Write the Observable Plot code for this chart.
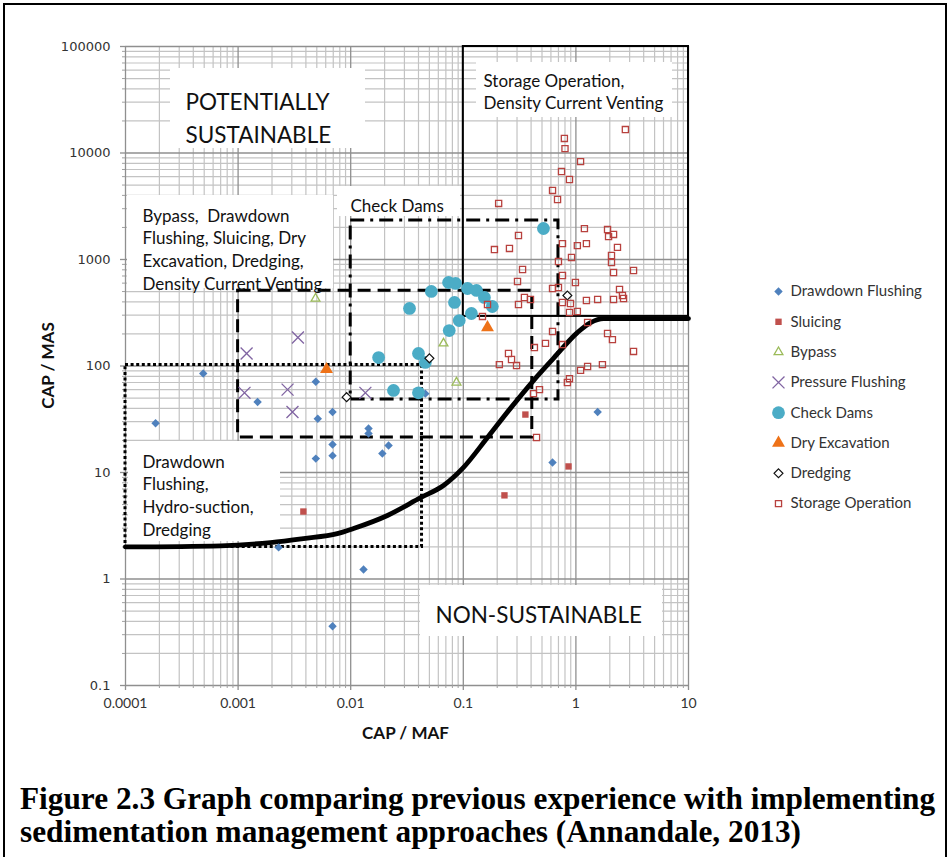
<!DOCTYPE html>
<html><head><meta charset="utf-8">
<script src="https://cdn.jsdelivr.net/npm/d3@7"></script>
<script src="https://cdn.jsdelivr.net/npm/@observablehq/plot@0.6"></script>
<style>
html,body{margin:0;padding:0;background:#fff}
body{width:952px;height:857px;overflow:hidden;position:relative}
#frame{position:absolute;left:3px;top:3px;width:940px;height:900px;border:2px solid #000}
#chart{position:absolute;left:0;top:0}
#caption{position:absolute;left:20px;top:782px;font-family:"Liberation Serif","Times New Roman",serif;font-weight:bold;font-size:31.3px;line-height:33px;white-space:nowrap;color:#000}
</style></head><body>
<div id="frame"></div>
<div id="chart"></div>
<div id="caption">Figure 2.3 Graph comparing previous experience with implementing<br>sedimentation management approaches (Annandale, 2013)</div>
<script>
// ---------- data ----------
const xTickValues = [1e-4, 1e-3, 1e-2, 1e-1, 1, 10];
const xTickLabels = ["0.0001", "0.001", "0.01", "0.1", "1", "10"];
const yTickValues = [0.1, 1, 10, 100, 1000, 10000, 100000];
const yTickLabels = ["0.1", "1", "10", "100", "1000", "10000", "100000"];

const drawdownX = [1.85e-4, 4.9e-4, 1.49e-3, 4.9e-3, 5.1e-3, 6.9e-3, 6.9e-3, 6.9e-3, 4.9e-3, 0.0144, 0.0144, 0.0191, 0.0217, 2.29e-3, 0.013, 6.9e-3, 1.56, 0.62, 0.046];
const drawdownY = [29, 85, 46, 71, 32, 37, 18.3, 14.4, 13.5, 25.9, 23.2, 15.1, 17.9, 1.98, 1.23, 0.36, 37, 12.4, 55];

const sluicingX = [3.8e-3, 0.356, 0.86, 0.232];
const sluicingY = [4.3, 35, 11.4, 6.1];

const bypassX = [4.87e-3, 0.0667, 0.087];
const bypassY = [430, 163, 70];

const pressureX = [1.19e-3, 3.4e-3, 1.14e-3, 2.75e-3, 3.04e-3, 0.0135];
const pressureY = [131, 185, 56, 60, 37, 56];

const checkX = [0.074, 0.0854, 0.052, 0.0333, 0.0835, 0.109, 0.131, 0.154, 0.181, 0.118, 0.092, 0.075, 0.040, 0.046, 0.0177, 0.024, 0.040, 0.515];
const checkY = [608, 596, 501, 347, 395, 534, 512, 440, 362, 311, 267, 215, 131, 108, 120, 59, 56, 1955];

const dryX = [6.1e-3, 0.164];
const dryY = [93, 230];

const dredgingX = [9.2e-3, 0.050, 0.84];
const dredgingY = [51, 118, 459];

const storageX = [2.75,0.79,0.80,1.10,0.745,0.877,0.62,0.687,0.206,1.19,1.91,1.95,2.16,0.309,0.189,0.257,0.76,1.03,1.24,2.34,0.914,2.07,2.07,0.70,0.336,2.16,3.25,0.76,0.303,0.99,0.62,0.70,2.44,2.59,2.65,0.349,0.309,0.395,0.76,0.895,1.24,1.56,2.16,0.164,0.877,1.03,0.148,1.27,0.62,1.91,2.11,0.537,0.428,0.76,3.25,0.252,0.268,0.209,0.297,1.10,1.27,1.72,0.877,0.84,0.475,0.42,0.447];
const storageY = [16600,13700,11000,8300,6700,5640,4450,3660,3360,1950,1910,1640,1720,1680,1240,1270,1410,1350,1410,1300,1045,1090,937,958,805,755,788,708,621,608,534,546,523,459,430,440,378,421,395,386,412,421,421,378,318,325,292,256,211,202,177,163,149,159,137,131,115,103,101,91,99,103,76,70,60,55,21.3];

// sustainability threshold curve
const curveX = [1e-4, 7e-4, 1.94e-3, 3.8e-3, 7.6e-3, 0.0106, 0.0212, 0.0417, 0.0667, 0.1, 0.164, 0.262, 0.42, 0.632, 1.03, 1.35, 1.76, 10];
const curveY = [2, 2.05, 2.2, 2.4, 2.67, 2.98, 3.95, 5.8, 7.55, 11.1, 21.3, 40, 73, 118, 206, 256, 279, 279];

// regions (boxes)
const regionNames = ["Storage Operation", "Check Dams", "Bypass", "Drawdown"];
const regionX1 = [0.1, 0.01, 0.001, 1e-4];
const regionX2 = [10, 0.7, 0.41, 0.043];
const regionY1 = [292, 48.5, 21.3, 2];
const regionY2 = [100000, 2320, 510, 102];

const legendLabels = ["Drawdown Flushing", "Sluicing", "Bypass", "Pressure Flushing", "Check Dams", "Dry Excavation", "Dredging", "Storage Operation"];

// ---------- layout ----------
const W = 952, H = 760, mL = 125, mR = 264, mT = 46, mB = 75;
const sx = d3.scaleLog([1e-4, 10], [mL, W - mR]);
const sy = d3.scaleLog([0.1, 1e5], [H - mB, mT]);
const X = px => sx.invert(px), Y = py => sy.invert(py);
const FONT = "Lato, 'Open Sans', sans-serif";

// grid positions from decades
const decX = d3.range(-4, 1).map(e => Math.pow(10, e));
const decY = d3.range(-1, 5).map(e => Math.pow(10, e));
const minorX = decX.flatMap(d => d3.range(2, 10).map(k => k * d));
const minorY = decY.flatMap(d => d3.range(2, 10).map(k => k * d));

const styles = [
  {symbol: "diamond2", fill: "#4F81BD", stroke: "none", r: 3.8, sw: 0},
  {symbol: "square", fill: "#C0504D", stroke: "none", r: 3.6, sw: 0},
  {symbol: "triangle2", fill: "none", stroke: "#9BBB59", r: 4.2, sw: 1.3},
  {symbol: "times", fill: "none", stroke: "#8064A2", r: 5.5, sw: 1.3},
  {symbol: "circle", fill: "#4BACC6", stroke: "none", r: 6.4, sw: 0},
  {symbol: "triangle", fill: "#EE7218", stroke: "none", r: 4.8, sw: 0},
  {symbol: "diamond2", fill: "#fff", stroke: "#111", r: 4.0, sw: 1.2},
  {symbol: "square2", fill: "none", stroke: "#B8413E", r: 3.9, sw: 1.3}
];
const seriesXY = [
  [drawdownX, drawdownY], [sluicingX, sluicingY], [bypassX, bypassY], [pressureX, pressureY],
  [checkX, checkY], [dryX, dryY], [dredgingX, dredgingY], [storageX, storageY]
];
const drawOrder = [0, 1, 2, 3, 4, 5, 6, 7];

function dots(data, st) {
  return Plot.dot(data, {x: "x", y: "y", symbol: st.symbol, fill: st.fill, stroke: st.stroke, r: st.r, strokeWidth: st.sw});
}

// annotation boxes (pixel placement)
const annos = [
  {text: "POTENTIALLY\nSUSTAINABLE", tx: 185, top: 86, fs: 22.5, lh: 1.47, box: [170, 365, 68, 148]},
  {text: "Bypass,\u00a0 Drawdown\nFlushing, Sluicing, Dry\nExcavation, Dredging,\nDensity Current Venting", tx: 142, top: 205, fs: 17, lh: 1.335, box: [127, 333, 195, 288]},
  {text: "Check Dams", tx: 350, top: 196, fs: 17, lh: 1.3, box: [337, 460, 186, 216]},
  {text: "Storage Operation,\nDensity Current Venting", tx: 483, top: 71, fs: 17, lh: 1.3, box: [476, 672, 62, 117]},
  {text: "Drawdown\nFlushing,\nHydro-suction,\nDredging", tx: 142, top: 451, fs: 17, lh: 1.335, box: [128, 280, 441, 541]},
  {text: "NON-SUSTAINABLE", tx: 435, top: 600, fs: 22.5, lh: 1.4, box: [420, 662, 585, 636]}
];

const curveData = curveX.map((x, i) => ({x, y: curveY[i]}));
const regionData = regionNames.map((n, i) => ({n, x1: regionX1[i], x2: regionX2[i], y1: regionY1[i], y2: regionY2[i]}));
const regionStyle = [
  {sw: 2, dash: null},
  {sw: 3, dash: "14,6,3,6"},
  {sw: 3, dash: "13,7"},
  {sw: 3, dash: "3,2.6"}
];

const marks = [];
// grid
marks.push(Plot.ruleX(minorX, {stroke: "#c3c3c3", strokeWidth: 1.2}));
marks.push(Plot.ruleY(minorY, {stroke: "#c3c3c3", strokeWidth: 1.2}));
marks.push(Plot.ruleX(xTickValues, {stroke: "#8f8f8f", strokeWidth: 1.3}));
marks.push(Plot.ruleY(yTickValues, {stroke: "#8f8f8f", strokeWidth: 1.3}));
// axis ticks
marks.push(Plot.ruleX(xTickValues, {y1: Y(H - mB), y2: Y(H - mB + 5), stroke: "#8f8f8f", strokeWidth: 1.3}));
marks.push(Plot.ruleY(yTickValues, {x1: X(mL - 5), x2: X(mL), stroke: "#8f8f8f", strokeWidth: 1.3}));
marks.push(Plot.ruleY(minorY, {x1: X(mL - 3), x2: X(mL), stroke: "#a0a0a0", strokeWidth: 1}));
marks.push(Plot.ruleX(minorX, {y1: Y(H - mB), y2: Y(H - mB + 3), stroke: "#a0a0a0", strokeWidth: 1}));
// white label backgrounds
marks.push(Plot.rect(annos, {x1: d => X(d.box[0]), x2: d => X(d.box[1]), y1: d => Y(d.box[3]), y2: d => Y(d.box[2]), fill: "#fff"}));
// regions
regionData.forEach((d, i) => {
  marks.push(Plot.rect([d], {x1: "x1", x2: "x2", y1: "y1", y2: "y2", fill: "none", stroke: "#000", strokeWidth: regionStyle[i].sw, strokeDasharray: regionStyle[i].dash}));
});
// threshold curve
marks.push(Plot.line(curveData, {x: "x", y: "y", stroke: "#000", strokeWidth: 4.8, curve: "monotone-x"}));
// points
drawOrder.forEach(k => {
  const [xs, ys] = seriesXY[k];
  marks.push(dots(xs.map((x, i) => ({x, y: ys[i]})), styles[k]));
});
// annotation texts
annos.forEach(a => {
  marks.push(Plot.text([a], {x: () => X(a.tx), y: () => Y(a.top), text: "text", textAnchor: "start", lineAnchor: "top", fontSize: a.fs, lineHeight: a.lh, fill: "#111", fontFamily: FONT}));
});
// tick labels
marks.push(Plot.text(xTickValues, {x: d => d, y: () => Y(H - mB + 18), text: (d, i) => xTickLabels[i], fontSize: 14, fill: "#333", fontFamily: FONT}));
marks.push(Plot.text(yTickValues, {x: () => X(110), y: d => d, text: (d, i) => yTickLabels[i], textAnchor: "end", fontSize: 13, fill: "#333", fontFamily: "'DejaVu Sans', sans-serif"}));
// axis titles
marks.push(Plot.text(["CAP / MAF"], {x: () => X(405), y: () => Y(733), text: d => d, fontSize: 17, fontWeight: "bold", fill: "#111", fontFamily: FONT}));
marks.push(Plot.text(["CAP / MAS"], {x: () => X(48), y: () => Y(365), text: d => d, rotate: -90, fontSize: 17, fontWeight: "bold", fill: "#111", fontFamily: FONT}));
// legend
const legY0 = 291, legDy = 30.3, legMX = 778, legTX = 790;
legendLabels.forEach((lab, i) => {
  marks.push(dots([{x: X(legMX), y: Y(legY0 + i * legDy)}], styles[i]));
  marks.push(Plot.text([lab], {x: () => X(legTX), y: () => Y(legY0 + i * legDy), text: d => d, textAnchor: "start", fontSize: 15, fill: "#333", fontFamily: FONT}));
});

const chart = Plot.plot({
  width: W, height: H,
  marginLeft: mL, marginRight: mR, marginTop: mT, marginBottom: mB,
  x: {type: "log", domain: [1e-4, 10], axis: null},
  y: {type: "log", domain: [0.1, 1e5], axis: null},
  style: {background: "transparent", fontFamily: FONT, overflow: "visible"},
  marks
});
document.getElementById("chart").appendChild(chart);
</script>
</body></html>
